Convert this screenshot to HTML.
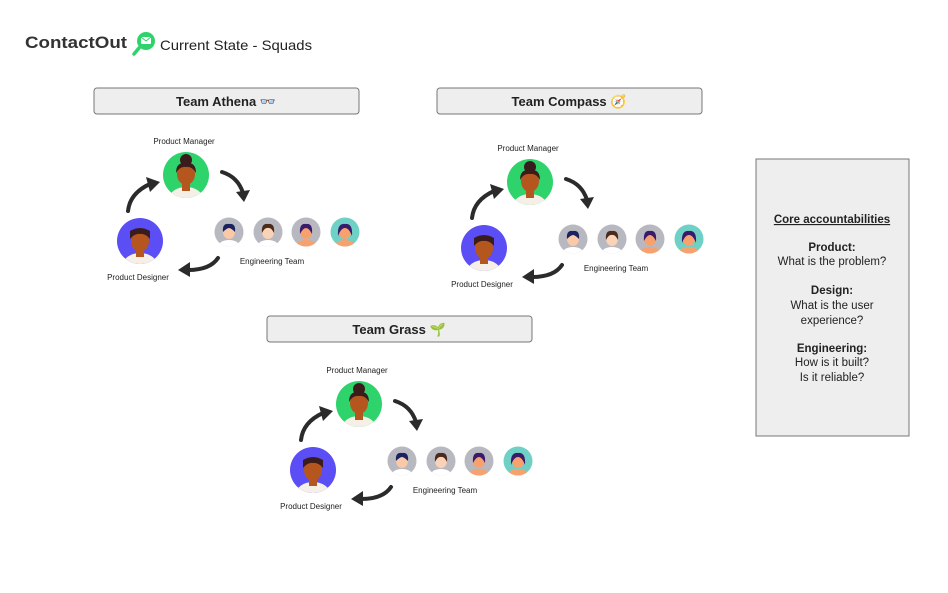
<!DOCTYPE html>
<html><head><meta charset="utf-8"><style>
body{margin:0;width:948px;height:588px;background:#fff;overflow:hidden;font-family:"Liberation Sans",sans-serif}
</style></head><body>
<svg width="948" height="588" viewBox="0 0 948 588" xmlns="http://www.w3.org/2000/svg" font-family="Liberation Sans, sans-serif">
<defs>
<clipPath id="c23"><circle cx="0" cy="0" r="23"/></clipPath>
<clipPath id="c14"><circle cx="0" cy="0" r="14.5"/></clipPath>
<g id="pm">
 <circle r="23" fill="#2fd36b"/>
 <g clip-path="url(#c23)">
  <ellipse cx="0" cy="24" rx="17" ry="12" fill="#f5efe8"/>
  <rect x="-4" y="6" width="8" height="10" fill="#b5561f"/>
  <ellipse cx="0" cy="-1" rx="9" ry="11" fill="#b5561f"/>
  <circle cx="0" cy="-15" r="6" fill="#3a1c1c"/>
  <path d="M-10,-2 Q-10,-13 0,-12 Q10,-13 10,-2 Q6,-9 0,-8 Q-6,-9 -10,-2Z" fill="#3a1c1c"/>
 </g>
</g>
<g id="pd">
 <circle r="23" fill="#5b4ef5"/>
 <g clip-path="url(#c23)">
  <ellipse cx="0" cy="24" rx="17" ry="12" fill="#f5efe8"/>
  <rect x="-4" y="6" width="8" height="10" fill="#b5561f"/>
  <ellipse cx="0" cy="0" rx="9" ry="11" fill="#b5561f"/>
  <path d="M-10,-2 L-10,-10 Q0,-16 10,-10 L10,-2 Q5,-8 0,-7 Q-5,-8 -10,-2Z" fill="#3a1c1c"/>
 </g>
</g>
<g id="eng">
 <circle r="14.5" fill="#b8b8c0"/>
 <g clip-path="url(#c14)">
  <ellipse cx="0" cy="15" rx="11" ry="7" fill="#fff"/>
  <ellipse cx="0" cy="0" rx="6" ry="7" fill="#f9c9a8"/>
  <path d="M-6,0 Q-7,-9 0,-8 Q7,-9 6,0 Q2,-4 0,-4 Q-2,-4 -6,0Z" fill="#1a2260"/>
 </g>
</g>
<g id="eng2">
 <circle r="14.5" fill="#b8b8c0"/>
 <g clip-path="url(#c14)">
  <ellipse cx="0" cy="15" rx="11" ry="7" fill="#fff"/>
  <ellipse cx="0" cy="0" rx="6" ry="7" fill="#f9d2b8"/>
  <path d="M-6,1 Q-7,-9 0,-8 Q7,-9 6,1 Q3,-5 0,-4 Q-3,-5 -6,1Z" fill="#4a2a1a"/>
 </g>
</g>
<g id="eng3">
 <circle r="14.5" fill="#b8b8c0"/>
 <g clip-path="url(#c14)">
  <ellipse cx="0" cy="15" rx="11" ry="7" fill="#f7a26e"/>
  <ellipse cx="0" cy="0" rx="6" ry="7" fill="#f7a26e"/>
  <path d="M-6,2 Q-7,-9 0,-8 Q7,-9 6,2 Q3,-4 0,-4 Q-3,-4 -6,2Z" fill="#3a1a6a"/>
 </g>
</g>
<g id="eng4">
 <circle r="14.5" fill="#6fd1c6"/>
 <g clip-path="url(#c14)">
  <ellipse cx="0" cy="15" rx="11" ry="7" fill="#f7a26e"/>
  <ellipse cx="0" cy="0" rx="6" ry="7" fill="#f7a26e"/>
  <path d="M-7,4 Q-8,-9 0,-8 Q8,-9 7,4 Q4,-4 0,-4 Q-4,-4 -7,4Z" fill="#3a1a6a"/>
 </g>
</g>
<g id="team">
 <text x="184" y="144" font-size="8" text-anchor="middle" fill="#222">Product Manager</text>
 <use href="#pm" x="186" y="175"/>
 <use href="#pd" x="140" y="241"/>
 <use href="#eng" x="229" y="232"/>
 <use href="#eng2" x="268" y="232"/>
 <use href="#eng3" x="306" y="232"/>
 <use href="#eng4" x="345" y="232"/>
 <text x="272" y="264" font-size="8" text-anchor="middle" fill="#222">Engineering Team</text>
 <text x="138" y="280" font-size="8" text-anchor="middle" fill="#222">Product Designer</text>
 <g fill="none" stroke="#2b2b2b" stroke-width="4" stroke-linecap="round">
  <path d="M128,211 Q130,193 150,184"/>
  <path d="M222,172 Q238,177 243,193"/>
  <path d="M218,258 Q210,270 188,270"/>
 </g>
 <g fill="#2b2b2b">
  <path d="M146,177 L160,182 L150,192Z"/>
  <path d="M236,192 L250,190 L244,202Z"/>
  <path d="M190,262 L178,270 L190,277Z"/>
 </g>
</g>
</defs>

<text x="25" y="48" font-size="17" font-weight="bold" fill="#333" textLength="102" lengthAdjust="spacingAndGlyphs">ContactOut</text>
<circle cx="146" cy="41" r="9" fill="#2fd36b"/>
<line x1="139" y1="48" x2="134" y2="54" stroke="#2fd36b" stroke-width="3.5" stroke-linecap="round"/>
<rect x="141" y="37" width="10" height="7" rx="1" fill="#fff"/>
<path d="M141,37 L146,41 L151,37" fill="none" stroke="#2fd36b" stroke-width="1"/>
<text x="160" y="50" font-size="14" fill="#222" textLength="152" lengthAdjust="spacingAndGlyphs">Current State - Squads</text>

<rect x="94" y="88" width="265" height="26" rx="3" fill="#eee" stroke="#777"/>
<text x="226" y="106" font-size="13" font-weight="bold" text-anchor="middle" fill="#222">Team Athena 👓</text>
<rect x="437" y="88" width="265" height="26" rx="3" fill="#eee" stroke="#777"/>
<text x="569" y="106" font-size="13" font-weight="bold" text-anchor="middle" fill="#222">Team Compass 🧭</text>
<rect x="267" y="316" width="265" height="26" rx="3" fill="#eee" stroke="#777"/>
<text x="399" y="334" font-size="13" font-weight="bold" text-anchor="middle" fill="#222">Team Grass 🌱</text>

<use href="#team" x="0" y="0"/>
<use href="#team" x="344" y="7"/>
<use href="#team" x="173" y="229"/>

<rect x="756" y="159" width="153" height="277" fill="#eee" stroke="#777"/>
<g font-size="11.5" text-anchor="middle" fill="#222">
 <text x="832" y="223" font-weight="bold" text-decoration="underline">Core accountabilities</text>
 <text x="832" y="251" font-weight="bold">Product:</text>
 <text x="832" y="265">What is the problem?</text>
 <text x="832" y="294" font-weight="bold">Design:</text>
 <text x="832" y="309">What is the user</text>
 <text x="832" y="324">experience?</text>
 <text x="832" y="352" font-weight="bold">Engineering:</text>
 <text x="832" y="366">How is it built?</text>
 <text x="832" y="381">Is it reliable?</text>
</g>
</svg>
</body></html>
